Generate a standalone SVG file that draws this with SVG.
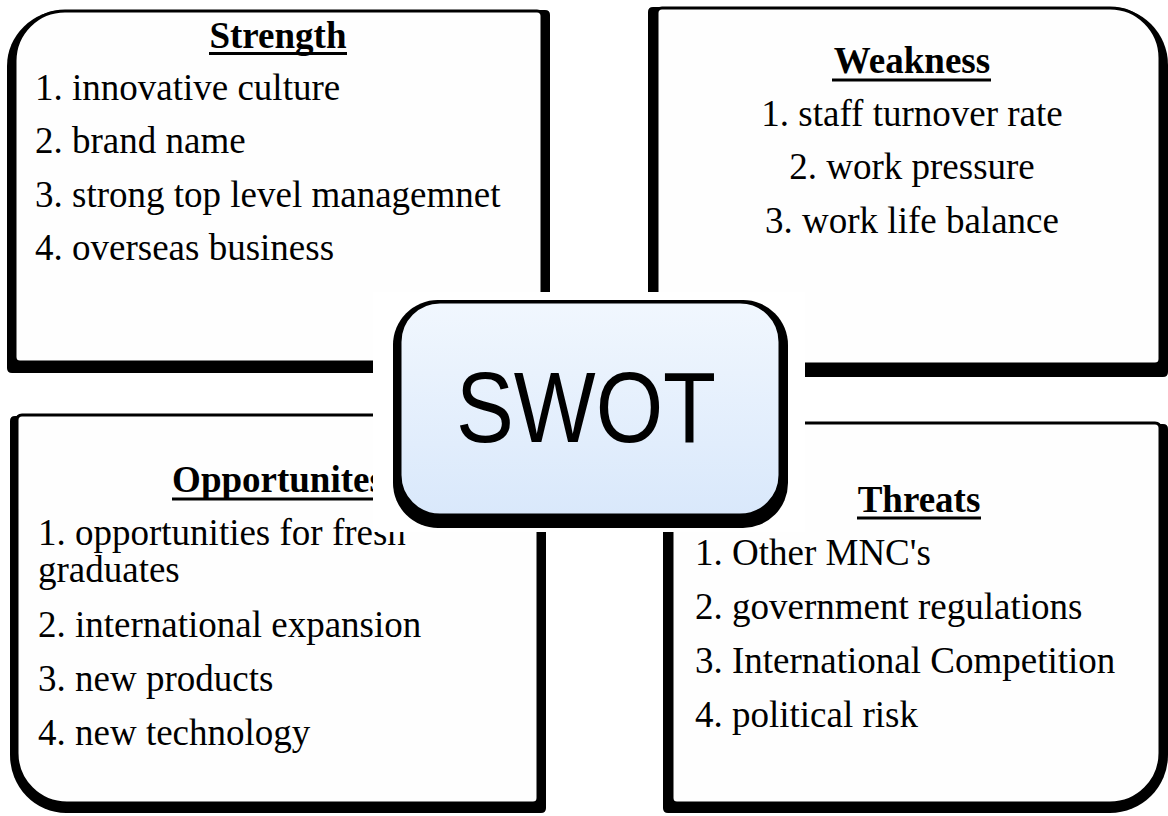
<svg xmlns="http://www.w3.org/2000/svg" width="1168" height="816" viewBox="0 0 1168 816">
<defs>
<linearGradient id="swotFill" x1="0" y1="0" x2="0" y2="1">
<stop offset="0" stop-color="#f1f7fe"/>
<stop offset="1" stop-color="#d9e8fb"/>
</linearGradient>
<style>
.shadow{fill:#000;}
.box{fill:#fefefe;stroke:#000;stroke-width:3;}
.item{font-family:"Liberation Serif","Times New Roman",serif;font-size:37px;fill:#000;}
.title{font-family:"Liberation Serif","Times New Roman",serif;font-size:37px;font-weight:bold;fill:#000;}
.ul{stroke:#000;stroke-width:3;}
.swot{font-family:"Liberation Sans",Arial,sans-serif;font-size:100px;fill:#000;}
</style>
</defs>
<rect width="1168" height="816" fill="#ffffff"/>

<g id="strength">
<path class="shadow" d="M7,66 A58,56 0 0 1 65,10 L545,10 Q550,10 550,15 L550,368 Q550,373 545,373 L12,373 Q7,373 7,368 Z"/>
<path class="box" d="M15,61 A50,50 0 0 1 65,11 L537,11 Q542,11 542,16 L542,357 Q542,362 537,362 L20,362 Q15,362 15,357 Z"/>
<text class="title" x="278" y="48" text-anchor="middle">Strength</text>
<line class="ul" x1="209" y1="53.5" x2="347" y2="53.5"/>
<text class="item" x="35" y="100">1. innovative culture</text>
<text class="item" x="35" y="153">2. brand name</text>
<text class="item" x="35" y="207">3. strong top level managemnet</text>
<text class="item" x="35" y="260">4. overseas business</text>
</g>

<g id="weakness">
<path class="shadow" d="M648,12 Q648,7 653,7 L1110,7 A58,58 0 0 1 1168,65 L1168,372 Q1168,377 1163,377 L653,377 Q648,377 648,372 Z"/>
<path class="box" d="M657,13 Q657,8 662,8 L1110,8 A50,50 0 0 1 1160,58 L1160,359 Q1160,364 1155,364 L662,364 Q657,364 657,359 Z"/>
<text class="title" x="912" y="73" text-anchor="middle">Weakness</text>
<line class="ul" x1="832" y1="80" x2="991" y2="80"/>
<text class="item" x="912" y="126" text-anchor="middle">1. staff turnover rate</text>
<text class="item" x="912" y="179" text-anchor="middle">2. work pressure</text>
<text class="item" x="912" y="233" text-anchor="middle">3. work life balance</text>
</g>

<g id="opportunities">
<path class="shadow" d="M10,421 Q10,416 15,416 L541,416 Q546,416 546,421 L546,808 Q546,813 541,813 L66,813 A56,58 0 0 1 10,755 Z"/>
<path class="box" d="M17,420 Q17,415 22,415 L533,415 Q538,415 538,420 L538,798 Q538,803 533,803 L67,803 A50,50 0 0 1 17,753 Z"/>
<text class="title" x="278" y="492" text-anchor="middle">Opportunites</text>
<line class="ul" x1="172" y1="499" x2="384" y2="499"/>
<text class="item" x="38" y="545">1. opportunities for fresh</text>
<text class="item" x="38" y="582">graduates</text>
<text class="item" x="38" y="637">2. international expansion</text>
<text class="item" x="38" y="691">3. new products</text>
<text class="item" x="38" y="745">4. new technology</text>
</g>

<g id="threats">
<path class="shadow" d="M663,429 Q663,424 668,424 L1163,424 Q1168,424 1168,429 L1168,755 A58,58 0 0 1 1110,813 L668,813 Q663,813 663,808 Z"/>
<path class="box" d="M672,428 Q672,423 677,423 L1155,423 Q1160,423 1160,428 L1160,753 A50,50 0 0 1 1110,803 L677,803 Q672,803 672,798 Z"/>
<text class="title" x="919" y="512" text-anchor="middle">Threats</text>
<line class="ul" x1="857" y1="518" x2="981" y2="518"/>
<text class="item" x="695" y="565">1. Other MNC's</text>
<text class="item" x="695" y="619">2. government regulations</text>
<text class="item" x="695" y="673">3. International Competition</text>
<text class="item" x="695" y="727">4. political risk</text>
</g>

<g id="connectors"></g>

<g id="swot">
<rect x="373" y="292" width="432" height="240" fill="#ffffff"/>
<rect class="shadow" x="393" y="300" width="395" height="228" rx="45" ry="45"/>
<rect x="400" y="302" width="380" height="213" rx="40" ry="40" fill="url(#swotFill)" stroke="#000" stroke-width="3"/>
<text class="swot" x="456" y="442" textLength="260" lengthAdjust="spacingAndGlyphs">SWOT</text>
</g>
</svg>
